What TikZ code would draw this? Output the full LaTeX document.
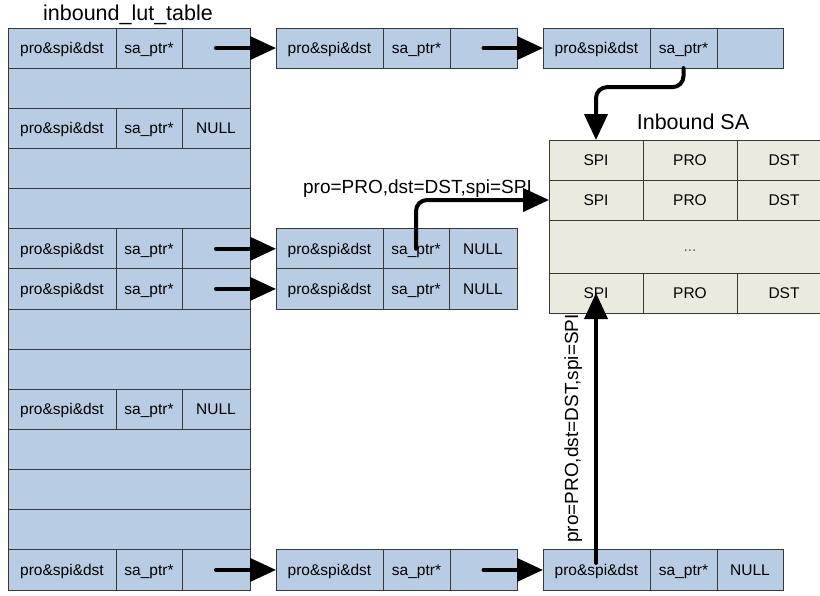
\documentclass[tikz,border=0pt]{standalone}
\usepackage{fontspec}
\setmainfont{Liberation Sans}
\usetikzlibrary{arrows.meta,calc}
\definecolor{bluec}{HTML}{B8CCE4}
\definecolor{sac}{HTML}{EAEADF}
\definecolor{linec}{HTML}{383838}
\newcommand\cellfont{\fontsize{15.5}{18}\selectfont}
\newcommand\lblfont{\fontsize{19}{22}\selectfont}
\newcommand\ttlfont{\fontsize{21.5}{25}\selectfont}
\newcommand\mkrec[9]{%
  \node[cell,minimum width=#4pt] (#1a) at (#2,#3) {#7};
  \node[cell,minimum width=#5pt] (#1b) at (#1a.north east) {#8};
  \node[cell,minimum width=#6pt] (#1c) at (#1b.north east) {#9};
}
\begin{document}
\begin{tikzpicture}[x=1pt,y=-1pt,
  cell/.style={draw=linec,fill=bluec,line width=1pt,minimum height=40.143pt,
    inner sep=0pt,outer sep=0pt,anchor=north west,font=\cellfont,
    text height=12pt,text depth=1.4pt},
  sacell/.style={draw=linec,fill=sac,line width=1pt,minimum height=40pt,
    minimum width=94pt,inner sep=0pt,outer sep=0pt,anchor=north west,font=\cellfont,
    text height=12pt,text depth=1.4pt},
  arr/.style={line width=4pt,line cap=round,-{Triangle[length=26pt,width=23pt]}},
  lbl/.style={font=\lblfont,inner sep=0pt},
  ttl/.style={font=\ttlfont,inner sep=0pt,anchor=base}]
\clip (0,0) rectangle (820,595);
\fill[white] (0,0) rectangle (820,595);
% titles
\node[ttl] (title) at (128,20) {inbound\_lut\_table};
\node[ttl] (satitle) at (693,129) {Inbound SA};
% left table
\mkrec{L1}{8}{28}{108}{66}{68}{pro\&spi\&dst}{sa\_ptr*}{}
\node[cell,minimum width=242pt] (L2) at (8,68.14) {};
\mkrec{L3}{8}{108.29}{108}{66}{68}{pro\&spi\&dst}{sa\_ptr*}{NULL}
\node[cell,minimum width=242pt] (L4) at (8,148.43) {};
\node[cell,minimum width=242pt] (L5) at (8,188.57) {};
\mkrec{L6}{8}{228.71}{108}{66}{68}{pro\&spi\&dst}{sa\_ptr*}{}
\mkrec{L7}{8}{268.86}{108}{66}{68}{pro\&spi\&dst}{sa\_ptr*}{}
\node[cell,minimum width=242pt] (L8) at (8,309.0) {};
\node[cell,minimum width=242pt] (L9) at (8,349.14) {};
\mkrec{L10}{8}{389.29}{108}{66}{68}{pro\&spi\&dst}{sa\_ptr*}{NULL}
\node[cell,minimum width=242pt] (L11) at (8,429.43) {};
\node[cell,minimum width=242pt] (L12) at (8,469.57) {};
\node[cell,minimum width=242pt] (L13) at (8,509.71) {};
\mkrec{L14}{8}{549.86}{108}{66}{68}{pro\&spi\&dst}{sa\_ptr*}{}
% chained entries
\mkrec{T2}{276}{28}{107}{67}{67}{pro\&spi\&dst}{sa\_ptr*}{}
\mkrec{T3}{543}{28}{107}{67}{66}{pro\&spi\&dst}{sa\_ptr*}{}
\mkrec{M1}{276}{228.71}{107}{66}{68}{pro\&spi\&dst}{sa\_ptr*}{NULL}
\mkrec{M2}{276}{268.86}{107}{66}{68}{pro\&spi\&dst}{sa\_ptr*}{NULL}
\mkrec{B1}{276}{549.86}{107}{67}{67}{pro\&spi\&dst}{sa\_ptr*}{}
\mkrec{B2}{543}{549.86}{107}{67}{66}{pro\&spi\&dst}{sa\_ptr*}{NULL}
% Inbound SA table
\node[sacell] (S11) at (549,140) {SPI};
\node[sacell] (S12) at (S11.north east) {PRO};
\node[sacell] (S13) at (S12.north east) {DST};
\node[sacell] (S21) at (549,180) {SPI};
\node[sacell] (S22) at (S21.north east) {PRO};
\node[sacell] (S23) at (S22.north east) {DST};
\node[sacell,minimum width=282pt,minimum height=53pt,text=linec!80] (S3) at (549,220) {...};
\node[sacell] (S41) at (549,273) {SPI};
\node[sacell] (S42) at (S41.north east) {PRO};
\node[sacell] (S43) at (S42.north east) {DST};
% connectors
\draw[arr] (L1c.center) -- (T2a.west);
\draw[arr] (T2c.center) -- (T3a.west);
\draw[arr,rounded corners=11pt] (T3b.south) -- ++(0,19) -| (S11.north);
\draw[arr] (L6c.center) -- (M1a.west);
\draw[arr] (L7c.center) -- (M2a.west);
\draw[arr,rounded corners=11pt] (M1b.center) |- (S21.west);
\draw[arr] (L14c.center) -- (B1a.west);
\draw[arr] (B1c.center) -- (B2a.west);
\draw[arr] ($(S41.center |- B2a.center)+(0,-7)$) -- (S41.center);
% labels
\node[lbl,anchor=base east] (lab1) at (532,193) {pro=PRO,dst=DST,spi=SPI};
\node[lbl,rotate=90,anchor=base west] (lab2) at (578,543) {pro=PRO,dst=DST,spi=SPI};
\end{tikzpicture}
\end{document}
